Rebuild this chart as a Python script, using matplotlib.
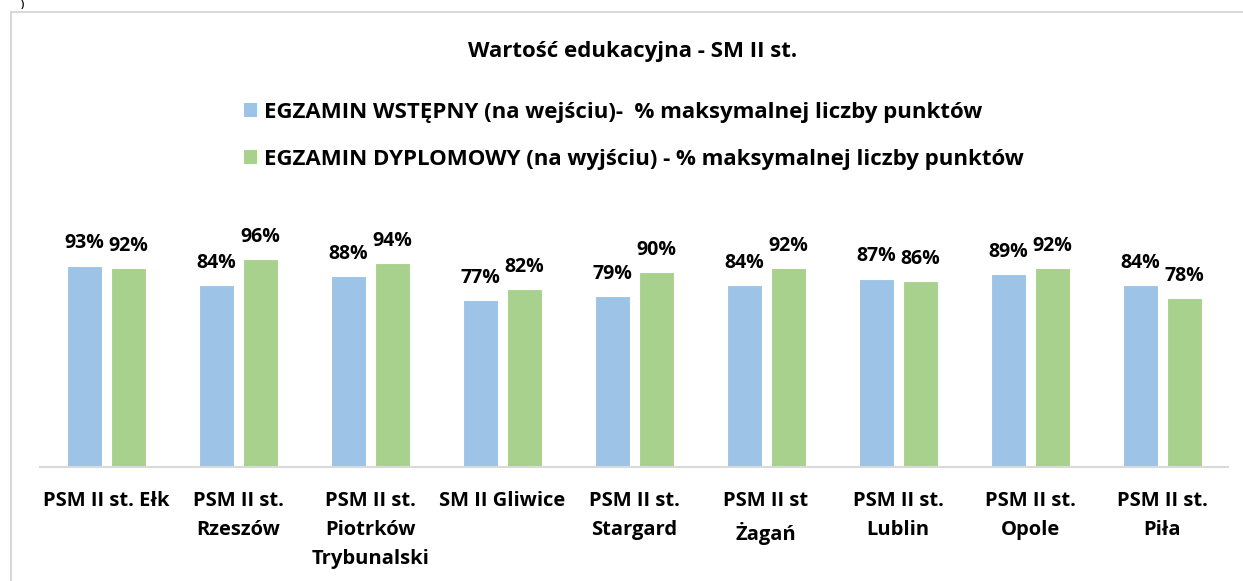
import matplotlib
matplotlib.use("Agg")
import matplotlib.pyplot as plt
from matplotlib.patches import Patch, Rectangle
import numpy as np

plt.rcParams["font.family"] = ["Open Sans", "DejaVu Sans"]
plt.rcParams["font.weight"] = "bold"

# --- data -------------------------------------------------------
schools = ["PSM II st. Ełk", "PSM II st.\nRzeszów", "PSM II st.\nPiotrków\nTrybunalski",
           "SM II Gliwice", "PSM II st.\nStargard", "PSM II st\nŻagań",
           "PSM II st.\nLublin", "PSM II st.\nOpole", "PSM II st.\nPiła"]
entry_pct = [0.93, 0.84, 0.88, 0.77, 0.79, 0.84, 0.87, 0.89, 0.84]
diploma_pct = [0.92, 0.96, 0.94, 0.82, 0.90, 0.92, 0.86, 0.92, 0.78]
series_names = ["EGZAMIN WSTĘPNY (na wejściu)-  % maksymalnej liczby punktów",
                "EGZAMIN DYPLOMOWY (na wyjściu) - % maksymalnej liczby punktów"]
title = "Wartość edukacyjna - SM II st."

BLUE, GREEN = "#9DC3E6", "#A9D18E"
GRID = "#D9D9D9"

W, H = 1243, 581
fig = plt.figure(figsize=(W / 100, H / 100), dpi=100, facecolor="white")

# axes placed in pixel terms (left, right, bottom, top from top edge)
L, R, B, T = 40, 1228, 467, 207
ax = fig.add_axes([L / W, (H - B) / H, (R - L) / W, (B - T) / H])

x = np.arange(len(schools))
bw, gap = 35 / 132, 9 / 132
off = (bw + gap) / 2
b1 = ax.bar(x - off, entry_pct, bw, color=BLUE, edgecolor="white", linewidth=0.8)
b2 = ax.bar(x + off, diploma_pct, bw, color=GREEN, edgecolor="white", linewidth=0.8)

# value labels above each bar
for bars in (b1, b2):
    for bar in bars:
        h = bar.get_height()
        ax.annotate(f"{h * 100:.0f}%", (bar.get_x() + bar.get_width() / 2, h),
                    xytext=(0, 22), textcoords="offset pixels",
                    ha="center", va="center", fontsize=14, fontweight="bold",
                    color="black")

ax.set_xlim(-0.5, len(schools) - 0.5)
ax.set_ylim(0, 1.2)
ax.set_yticks([])
ax.set_xticks(x)
ax.set_xticklabels(schools, fontsize=14.5, fontweight="bold", linespacing=1.62)
ax.tick_params(axis="x", length=0, pad=17)
for s in ("top", "right", "left"):
    ax.spines[s].set_visible(False)
ax.spines["bottom"].set_color(GRID)
ax.spines["bottom"].set_linewidth(1.5)

fig.text(633 / W, 1 - 51 / H, title, ha="center", va="center",
         fontsize=16, fontweight="bold")

handles = [Patch(facecolor=BLUE), Patch(facecolor=GREEN)]
fig.legend(handles, series_names, loc="upper left",
           bbox_to_anchor=(244 / W, 1 - 102 / H), frameon=False,
           prop={"weight": "bold", "size": 16},
           handlelength=0.6, handleheight=0.6, handletextpad=0.3,
           labelspacing=1.17, borderpad=0, borderaxespad=0)

# chart frame
fig.add_artist(Rectangle((11 / W, -0.05), 1.2, 1 - 12 / H + 0.05,
                         transform=fig.transFigure, fill=False,
                         edgecolor=GRID, linewidth=1.5))
fig.text(22 / W, 1.0, ")", ha="center", va="top", fontsize=7, color="black")

fig.savefig("out.png", dpi=100, facecolor="white")
